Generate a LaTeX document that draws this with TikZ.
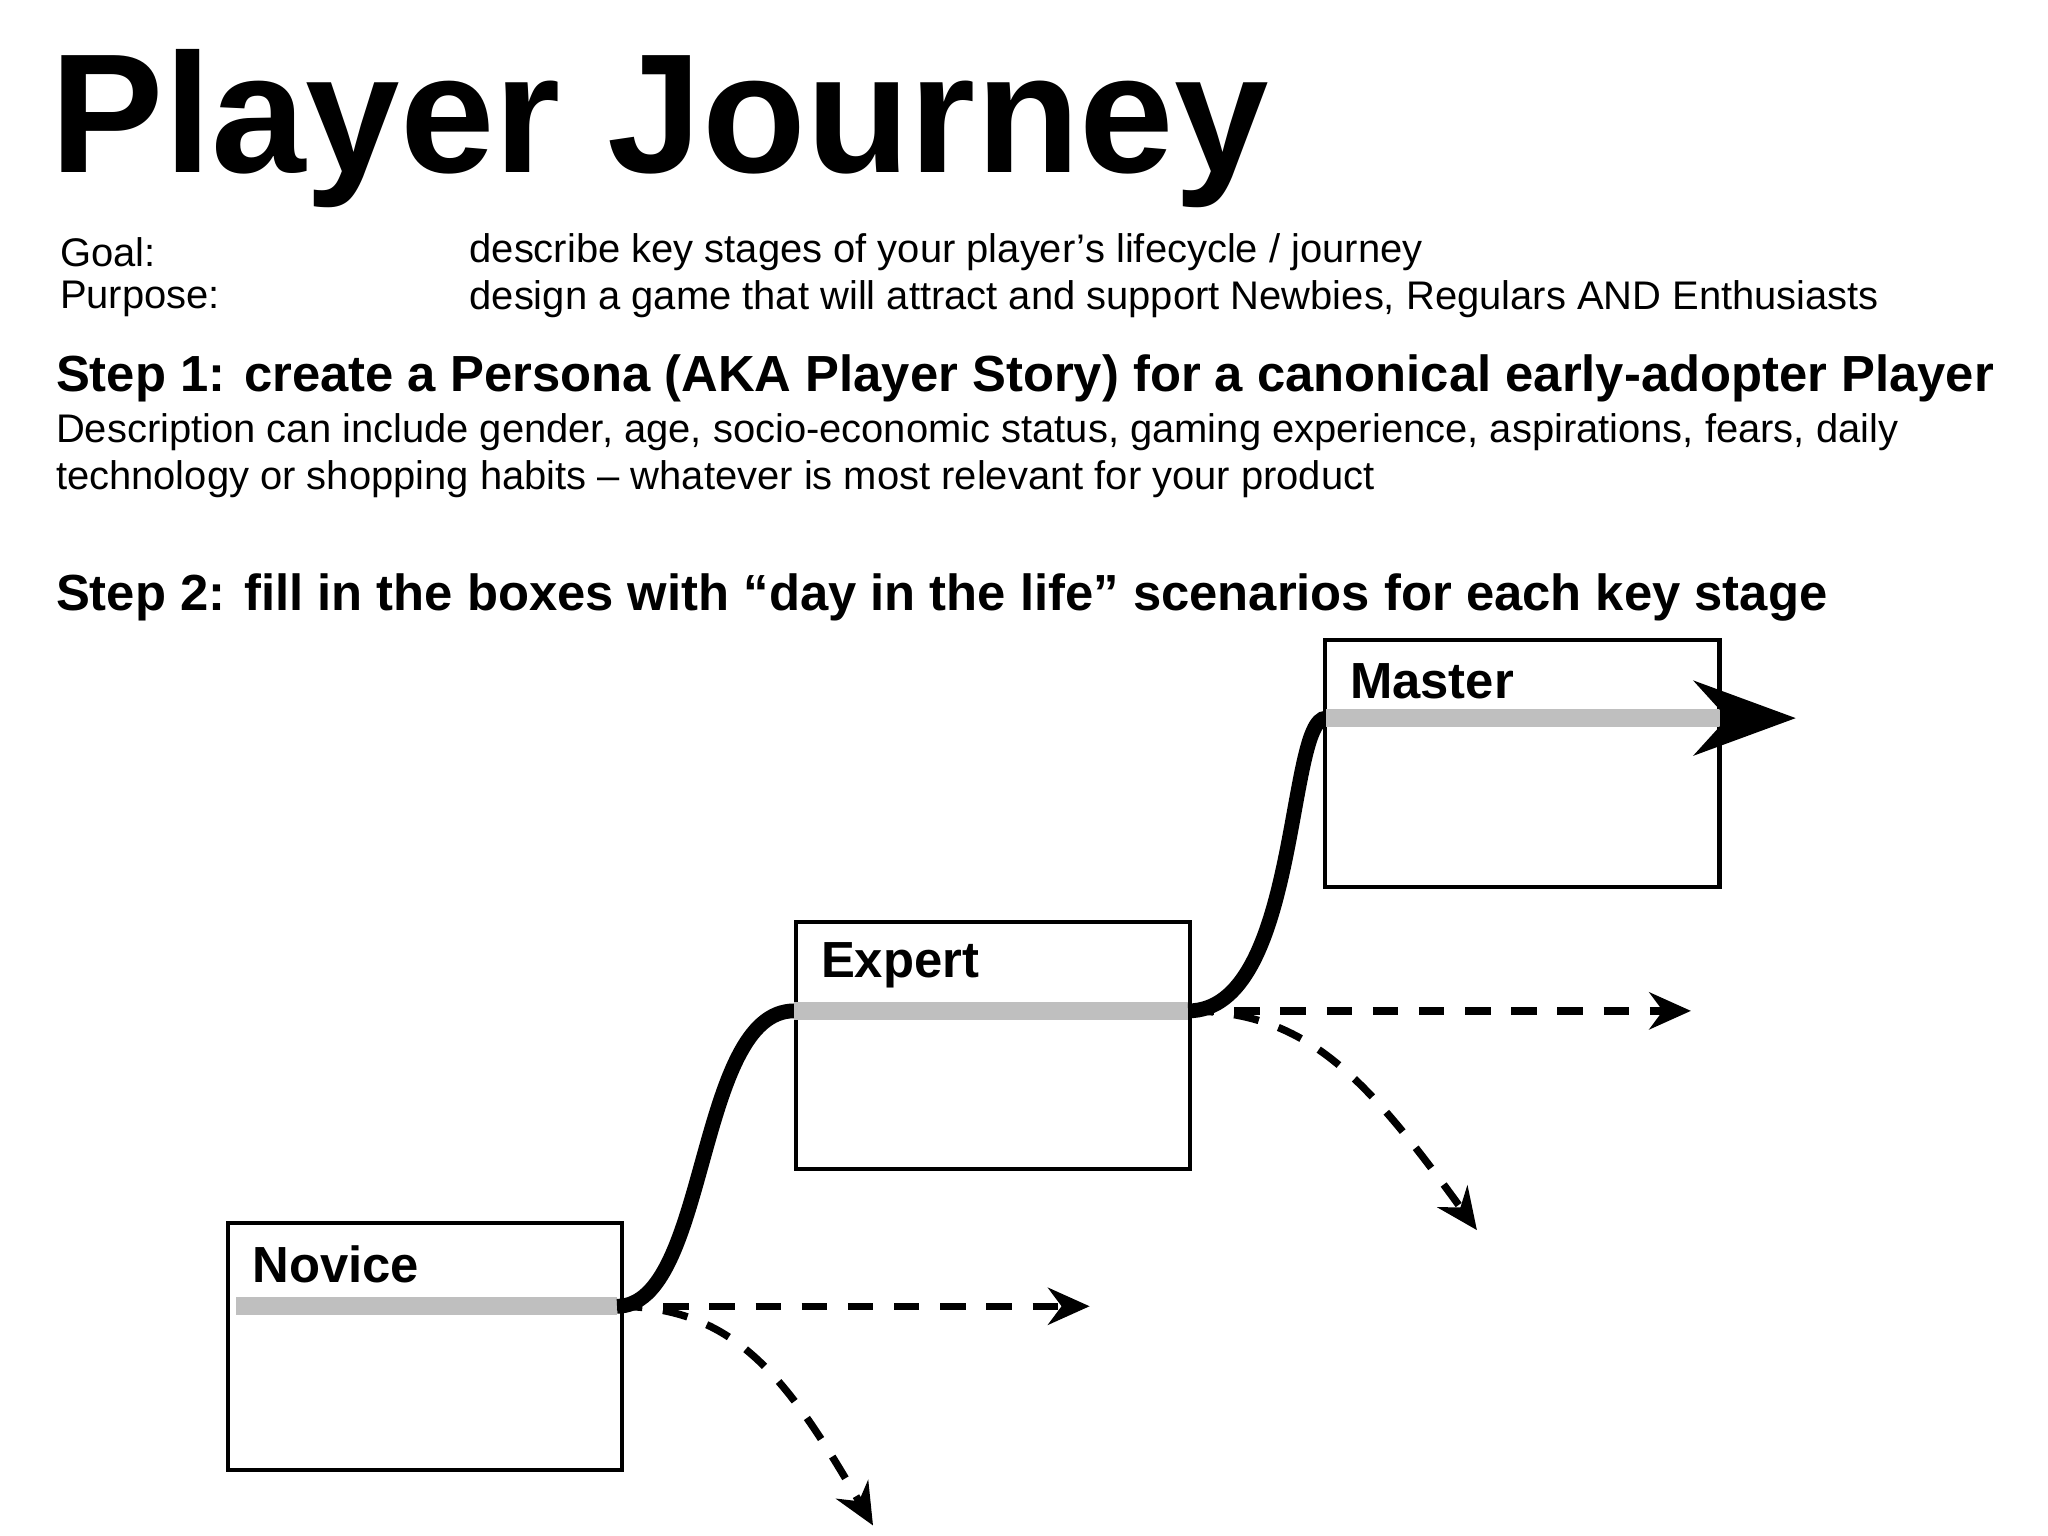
\documentclass[tikz,border=0pt]{standalone}
\usepackage{fontspec}
\setmainfont{Liberation Sans}
\usetikzlibrary{arrows.meta}
\begin{document}
\begin{tikzpicture}[x=0.01cm,y=-0.01cm,
  box/.style={draw,line width=0.9pt,minimum width=3cm,minimum height=1.88cm,anchor=north west,inner sep=0},
  lbl/.style={anchor=west,font=\fontsize{11}{13}\selectfont\bfseries},
  txt/.style={anchor=west,font=\fontsize{8.65}{10}\selectfont,inner sep=0},
  gray/.style={line width=4pt,color=black!25},
  blk/.style={line width=3.2pt},
  dsh/.style={line width=1.6pt,dash pattern=on 5.5pt off 4.5pt,-{Stealth[length=9pt,width=8pt]}}]
\useasboundingbox (0,0) rectangle (1560,1170);
\node[anchor=west,inner sep=0,font=\fontsize{36.8}{40}\selectfont\bfseries] (title) at (38,98) {Player Journey};
\node[txt] (g) at (45,192) {Goal:};
\node[txt] (gt) at (357,192) {describe key stages of your player’s lifecycle / journey};
\node[txt] (p) at (45,228) {Purpose:};
\node[txt] (pt) at (357,228) {design a game that will attract and support Newbies, Regulars AND Enthusiasts};
\node[txt,font=\fontsize{11}{12}\selectfont\bfseries] (s1) at (42,288) {Step 1: create a Persona (AKA Player Story) for a canonical early-adopter Player};
\node[txt] (d1) at (42,329) {Description can include gender, age, socio-economic status, gaming experience, aspirations, fears, daily};
\node[txt] (d2) at (42,365) {technology or shopping habits – whatever is most relevant for your product};
\node[txt,font=\fontsize{11}{12}\selectfont\bfseries] (s2) at (42,455) {Step 2: fill in the boxes with “day in the life” scenarios for each key stage};
\node[box] (nov) at (172,930) {};
\node[box] (exp) at (605,701) {};
\node[box] (mas) at (1008,486) {};
\node[lbl] at (180,963) {Novice};
\node[lbl] at (613,735) {Expert};
\node[lbl] at (1016,519) {Master};
\coordinate (a0) at (180,995); \coordinate (a1) at (470,995);
\coordinate (b0) at (605,770); \coordinate (b1) at (905,770);
\coordinate (c0) at (1010,547); \coordinate (c1) at (1310,547);
\coordinate (c2) at (1368,547);
\coordinate (na) at (830,995); \coordinate (nd) at (665,1162);
\coordinate (ea) at (1288,770); \coordinate (ed) at (1125,937);
\draw[gray] (a0) -- (a1);
\draw[blk] (a1) .. controls (540,995) and (530,770) .. (b0);
\draw[gray] (b0) -- (b1);
\draw[blk] (b1) .. controls (990,770) and (980,547) .. (c0);
\draw[gray] (c0) -- (c1);
\draw[blk,-{Stealth[length=22pt,width=16pt]}] (c1) -- (c2);
\draw[dsh] (a1) -- (na);
\draw[dsh] (a1) .. controls (560,995) and (600,1050) .. (nd);
\draw[dsh] (b1) -- (ea);
\draw[dsh] (b1) .. controls (995,770) and (1040,820) .. (ed);
\end{tikzpicture}
\end{document}
